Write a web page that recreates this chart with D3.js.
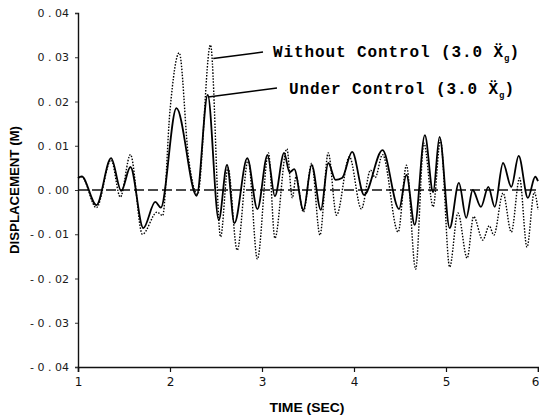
<!DOCTYPE html>
<html>
<head>
<meta charset="utf-8">
<script src="https://cdn.jsdelivr.net/npm/d3@7"></script>
<style>
  body { margin: 0; background: #fff; }
</style>
</head>
<body>
<div id="my_dataviz"></div>
<script>
// Under control response (peaks and troughs)
const ucTime = [1.00, 1.04, 1.20, 1.36, 1.47, 1.57, 1.71, 1.84, 1.90, 2.07, 2.29, 2.41, 2.53, 2.62, 2.70, 2.84, 2.95, 3.06, 3.14, 3.24, 3.30, 3.35, 3.45, 3.54, 3.64, 3.72, 3.80, 3.87, 3.98, 4.11, 4.31, 4.49, 4.57, 4.66, 4.77, 4.86, 4.93, 5.04, 5.14, 5.22, 5.29, 5.38, 5.46, 5.53, 5.62, 5.71, 5.79, 5.89, 5.97, 6.00];
const ucDisp = [0.0027, 0.0031, -0.0034, 0.0072, -0.0002, 0.0052, -0.0086, -0.0027, -0.0040, 0.0185, -0.0013, 0.0215, -0.0068, 0.0057, -0.0075, 0.0072, -0.0043, 0.0079, -0.0014, 0.0084, 0.0040, 0.0047, -0.0045, 0.0056, -0.0045, 0.0061, 0.0023, 0.0027, 0.0086, -0.0011, 0.0090, -0.0043, 0.0034, -0.0079, 0.0124, -0.0005, 0.0120, -0.0086, 0.0016, -0.0063, 0.0000, -0.0038, 0.0007, -0.0038, 0.0061, 0.0007, 0.0077, -0.0018, 0.0030, 0.0020];

// Without control response
const wcTime = [1.00, 1.04, 1.20, 1.36, 1.46, 1.57, 1.70, 1.86, 1.92, 2.00, 2.10, 2.20, 2.30, 2.44, 2.55, 2.63, 2.73, 2.85, 2.95, 3.07, 3.14, 3.27, 3.33, 3.37, 3.45, 3.54, 3.63, 3.72, 3.81, 3.95, 4.08, 4.18, 4.23, 4.31, 4.48, 4.57, 4.67, 4.76, 4.86, 4.94, 5.04, 5.13, 5.23, 5.30, 5.40, 5.47, 5.52, 5.62, 5.71, 5.80, 5.88, 5.96, 6.00];
const wcDisp = [0.0028, 0.0030, -0.0040, 0.0068, -0.0016, 0.0080, -0.0100, -0.0050, -0.0058, 0.0180, 0.0310, 0.0075, -0.0010, 0.0328, -0.0106, 0.0050, -0.0136, 0.0068, -0.0156, 0.0084, -0.0109, 0.0093, -0.0018, 0.0030, -0.0050, 0.0060, -0.0102, 0.0084, -0.0057, 0.0075, -0.0043, 0.0045, 0.0028, 0.0080, -0.0095, 0.0056, -0.0179, 0.0106, -0.0038, 0.0113, -0.0174, -0.0052, -0.0154, -0.0060, -0.0113, -0.0081, -0.0102, -0.0007, -0.0095, 0.0027, -0.0129, -0.0005, -0.0045];

const xTicks = [1, 2, 3, 4, 5, 6];
const yTicks = [0.04, 0.03, 0.02, 0.01, 0.00, -0.01, -0.02, -0.03, -0.04];

const wcLabel = "Without Control (3.0 Ẍ";
const ucLabel = "Under Control (3.0 Ẍ";

const width = 539, height = 417;

const svg = d3.select("#my_dataviz")
    .append("svg")
    .attr("width", width)
    .attr("height", height)
    .style("background", "#fff");

const xScale = d3.scaleLinear().domain([1, 6]).range([78, 538]);
const yScale = d3.scaleLinear().domain([-0.04, 0.04]).range([367, 13]);

// axes
const xAxis = d3.axisBottom(xScale).tickValues(xTicks).tickSize(5).tickFormat(d3.format("d"));
const yAxis = d3.axisLeft(yScale).tickValues(yTicks).tickSize(3).tickPadding(6)
    .tickFormat(d => (d < 0 ? "- " : "") + d3.format(".2f")(Math.abs(d)).replace(".", " . "));

const gx = svg.append("g")
    .attr("transform", `translate(0, ${yScale(-0.04)})`)
    .call(xAxis);
gx.select(".domain").attr("stroke", "#111").attr("stroke-width", 1.6);
gx.selectAll(".tick line").attr("stroke", "#111").attr("stroke-width", 1.2);
gx.selectAll(".tick text")
    .attr("font-family", "DejaVu Sans")
    .attr("font-size", 12)
    .attr("fill", "#111")
    .attr("dy", "0.9em")
    .attr("text-anchor", d => d === 6 ? "end" : "middle")
    .attr("dx", d => d === 6 ? 1 : 0);

const gy = svg.append("g")
    .attr("transform", `translate(${xScale(1)}, 0)`)
    .call(yAxis);
gy.select(".domain").attr("stroke", "#111").attr("stroke-width", 1.4);
gy.selectAll(".tick line").attr("stroke", "#333");
gy.selectAll(".tick text")
    .attr("font-family", "DejaVu Sans")
    .attr("font-size", 11)
    .attr("fill", "#1a1a1a")
    .style("white-space", "pre");

// zero reference line
svg.append("line")
    .attr("x1", xScale(1)).attr("x2", xScale(6))
    .attr("y1", yScale(0)).attr("y2", yScale(0))
    .attr("stroke", "#111")
    .attr("stroke-width", 1.3)
    .attr("stroke-dasharray", "10,4");

const line = d3.line()
    .x(d => xScale(d[0]))
    .y(d => yScale(d[1]))
    .curve(d3.curveMonotoneX);

svg.append("path")
    .datum(d3.zip(wcTime, wcDisp))
    .attr("fill", "none")
    .attr("stroke", "#000")
    .attr("stroke-width", 1.4)
    .attr("stroke-dasharray", "1.5,1.5")
    .attr("d", line);

svg.append("path")
    .datum(d3.zip(ucTime, ucDisp))
    .attr("fill", "none")
    .attr("stroke", "#000")
    .attr("stroke-width", 1.8)
    .attr("d", line);

// annotations
const notes = [
    { label: wcLabel, x0: xScale(2.47), y0: yScale(0.0297), x1: 263, y1: 52, tx: 273, ty: 57 },
    { label: ucLabel, x0: xScale(2.415), y0: yScale(0.0210), x1: 277, y1: 88, tx: 289, ty: 94 }
];

notes.forEach(n => {
    svg.append("line")
        .attr("x1", n.x0).attr("y1", n.y0)
        .attr("x2", n.x1).attr("y2", n.y1)
        .attr("stroke", "#000")
        .attr("stroke-width", 1.5);
    const t = svg.append("text")
        .attr("x", n.tx)
        .attr("y", n.ty)
        .attr("font-family", "Liberation Mono, DejaVu Sans Mono, monospace")
        .attr("font-weight", "bold")
        .attr("font-size", 16)
        .attr("letter-spacing", 0.9)
        .attr("fill", "#000")
        .style("white-space", "pre");
    t.append("tspan").text(n.label);
    t.append("tspan").attr("font-size", 9).attr("dy", 4).attr("letter-spacing", 0).text("g");
    t.append("tspan").attr("dy", -4).text(")");
});

// axis titles
svg.append("text")
    .attr("transform", `translate(19, ${yScale(0)}) rotate(-90)`)
    .attr("text-anchor", "middle")
    .attr("font-family", "Liberation Sans, Arial, sans-serif")
    .attr("font-weight", "bold")
    .attr("font-size", 12)
    .attr("textLength", 128)
    .attr("lengthAdjust", "spacingAndGlyphs")
    .text("DISPLACEMENT (M)");

svg.append("text")
    .attr("x", 307)
    .attr("y", 412)
    .attr("text-anchor", "middle")
    .attr("font-family", "Liberation Sans, Arial, sans-serif")
    .attr("font-weight", "bold")
    .attr("font-size", 12)
    .attr("textLength", 75)
    .attr("lengthAdjust", "spacingAndGlyphs")
    .text("TIME (SEC)");
</script>
</body>
</html>
